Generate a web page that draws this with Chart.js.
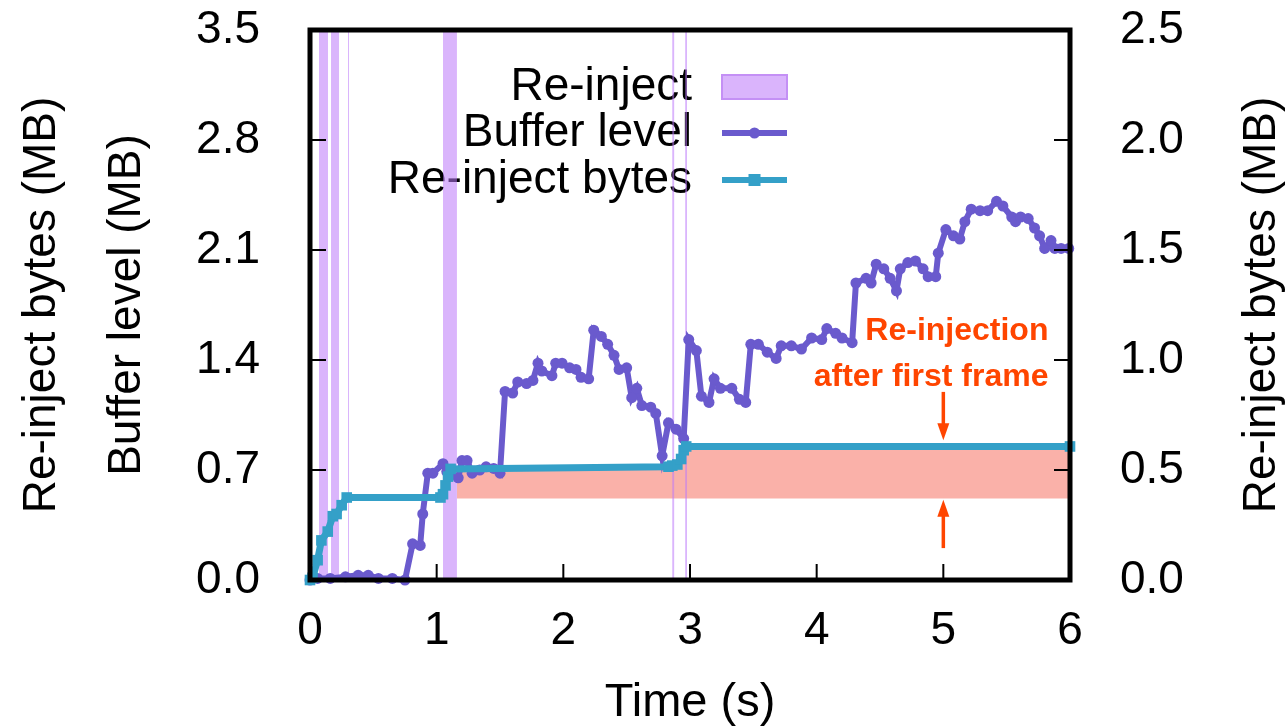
<!DOCTYPE html>
<html>
<head>
<meta charset="utf-8">
<style>
html,body{margin:0;padding:0;background:#fff;}
#wrap{width:1287px;height:727px;position:relative;}
</style>
<script src="https://cdn.jsdelivr.net/npm/chart.js@4/dist/chart.umd.min.js"></script>
</head>
<body>
<div id="wrap"><canvas id="c" width="1287" height="727"></canvas></div>
<script>
// ---------------- data ----------------
const xTicks = [0, 1, 2, 3, 4, 5, 6];
const leftTicks = [0, 0.7, 1.4, 2.1, 2.8, 3.5];
const rightTicks = [0, 0.5, 1.0, 1.5, 2.0, 2.5];

// Buffer level (MB, left axis)
const bufferTime = [0, 0.06, 0.16, 0.28, 0.38, 0.46, 0.54, 0.65, 0.75, 0.81, 0.87, 0.89, 0.93, 0.97,
  1.05, 1.08, 1.17, 1.20, 1.24, 1.28, 1.34, 1.39, 1.45, 1.50, 1.54, 1.60, 1.64, 1.71, 1.76, 1.80,
  1.83, 1.91, 1.94, 1.99, 2.05, 2.10, 2.14, 2.20, 2.24, 2.30, 2.35, 2.40, 2.44, 2.50, 2.54, 2.58,
  2.62, 2.69, 2.73, 2.78, 2.83, 2.89, 2.95, 2.99, 3.05, 3.09, 3.15, 3.19, 3.24, 3.33, 3.39, 3.44,
  3.48, 3.54, 3.61, 3.68, 3.72, 3.80, 3.88, 3.96, 4.04, 4.08, 4.15, 4.20, 4.28, 4.31, 4.39, 4.43,
  4.47, 4.53, 4.58, 4.63, 4.66, 4.72, 4.78, 4.84, 4.88, 4.94, 4.96, 5.02, 5.08, 5.13, 5.17, 5.22,
  5.29, 5.35, 5.42, 5.47, 5.54, 5.57, 5.61, 5.67, 5.72, 5.76, 5.80, 5.85, 5.88, 5.93, 5.99];
const bufferLevel = [0, 0.01, 0.01, 0.02, 0.03, 0.03, 0.01, 0.01, 0.0, 0.23, 0.22, 0.42, 0.68, 0.68,
  0.74, 0.69, 0.65, 0.76, 0.76, 0.68, 0.70, 0.72, 0.71, 0.68, 1.20, 1.19, 1.26, 1.25, 1.27, 1.38,
  1.33, 1.30, 1.38, 1.38, 1.35, 1.34, 1.29, 1.28, 1.59, 1.55, 1.50, 1.43, 1.34, 1.35, 1.16, 1.22,
  1.11, 1.10, 1.06, 0.79, 1.00, 0.96, 0.90, 1.53, 1.46, 1.17, 1.13, 1.28, 1.22, 1.22, 1.15, 1.13,
  1.50, 1.50, 1.45, 1.41, 1.49, 1.49, 1.47, 1.54, 1.53, 1.60, 1.57, 1.54, 1.51, 1.89, 1.92, 1.89,
  2.01, 1.98, 1.92, 1.84, 1.98, 2.02, 2.03, 1.98, 1.93, 1.93, 2.08, 2.23, 2.19, 2.17, 2.28, 2.36,
  2.35, 2.35, 2.41, 2.38, 2.31, 2.28, 2.31, 2.30, 2.24, 2.19, 2.11, 2.16, 2.11, 2.11, 2.11];

// Re-inject bytes (MB, right axis)
const reinjectTime = [0, 0.02, 0.06, 0.09, 0.14, 0.18, 0.21, 0.25, 0.29, 1.03, 1.05, 1.07, 1.09, 1.11,
  2.83, 2.86, 2.90, 2.93, 2.95, 2.97, 6.0];
const reinjectBytes = [0, 0.01, 0.09, 0.18, 0.22, 0.29, 0.30, 0.34, 0.375, 0.375, 0.39, 0.43, 0.47, 0.505,
  0.515, 0.52, 0.525, 0.55, 0.59, 0.607, 0.607];

// Re-inject periods (s)
const reinjectStart = [0.071, 0.166, 0.300, 1.050, 2.860, 2.962];
const reinjectEnd   = [0.142, 0.229, 0.308, 1.160, 2.875, 2.977];

// Re-injection after first frame (right axis)
const afterFirstFrameStart = 1.16;
const afterFirstFrameBase = 0.37;

// annotation
const noteLines = ['Re-injection', 'after first frame'];
const noteTime = 5.83;
const noteValues = [1.13, 0.92];
const arrowTime = 5;
const arrowDown = [0.855, 0.635];
const arrowUp = [0.145, 0.365];

// ---------------- styles ----------------
const PURPLE = '#6a5acd';
const CYAN = '#34a0c8';
const PINK = '#fab1a9';
const BAND = 'rgba(187,120,250,0.55)';
const ORANGE = '#ff4500';
const FONT = "'Liberation Sans', Arial, Helvetica, sans-serif";
const FS = 46;

Chart.defaults.font.family = FONT;
Chart.defaults.color = '#000';

const bufferData = bufferTime.map((t, i) => ({x: t, y: bufferLevel[i]}));
const reinjectData = reinjectTime.map((t, i) => ({x: t, y: reinjectBytes[i]}));
const bandData = [];
reinjectStart.forEach((s, i) => {
  const e = reinjectEnd[i];
  const top = leftTicks[leftTicks.length - 1];
  bandData.push({x: s, y: 0}, {x: s, y: top}, {x: e, y: top}, {x: e, y: 0});
});
function reinjectAt(t) {
  let v = reinjectBytes[0];
  reinjectTime.forEach((tt, i) => { if (tt <= t) v = reinjectBytes[i]; });
  return v;
}
const fillData = [{x: afterFirstFrameStart, y: reinjectAt(afterFirstFrameStart)}]
  .concat(reinjectData.filter(p => p.x > afterFirstFrameStart));

// ---------------- plugin ----------------
function drawLegend(chart) {
  const ctx = chart.ctx;
  ctx.save();
  ctx.font = FS + 'px ' + FONT;
  ctx.fillStyle = '#000';
  ctx.textAlign = 'right';
  ctx.textBaseline = 'middle';
  const tx = 692, sx0 = 722, sx1 = 787;
  const rows = [87, 133, 180];
  ctx.fillText('Re-inject', tx, rows[0]);
  ctx.fillText('Buffer level', tx, rows[1]);
  ctx.fillText('Re-inject bytes', tx, rows[2]);
  // box
  ctx.fillStyle = '#dab4fc';
  ctx.fillRect(sx0, rows[0] - 12, sx1 - sx0, 24);
  ctx.strokeStyle = '#c490f5';
  ctx.lineWidth = 2;
  ctx.strokeRect(sx0, rows[0] - 12, sx1 - sx0, 24);
  // buffer level sample
  ctx.strokeStyle = PURPLE; ctx.lineWidth = 6;
  ctx.beginPath(); ctx.moveTo(sx0, rows[1]); ctx.lineTo(sx1, rows[1]); ctx.stroke();
  ctx.fillStyle = PURPLE;
  ctx.beginPath(); ctx.arc((sx0 + sx1) / 2, rows[1], 5.5, 0, Math.PI * 2); ctx.fill();
  // re-inject bytes sample
  ctx.strokeStyle = CYAN;
  ctx.beginPath(); ctx.moveTo(sx0, rows[2]); ctx.lineTo(sx1, rows[2]); ctx.stroke();
  ctx.fillStyle = CYAN;
  ctx.fillRect((sx0 + sx1) / 2 - 6, rows[2] - 6, 12, 12);
  ctx.restore();
}

function arrow(ctx, x, y0, y1) {
  const dir = Math.sign(y1 - y0);
  ctx.beginPath(); ctx.moveTo(x, y0); ctx.lineTo(x, y1 - dir * 14); ctx.stroke();
  ctx.beginPath();
  ctx.moveTo(x, y1);
  ctx.lineTo(x - 6, y1 - dir * 17);
  ctx.lineTo(x + 6, y1 - dir * 17);
  ctx.closePath(); ctx.fill();
}

const decor = {
  id: 'decor',
  beforeDatasetsDraw(chart) { drawLegend(chart); },
  afterDatasetsDraw(chart) {
    const {ctx, chartArea: a, scales} = chart;
    ctx.save();
    // frame
    ctx.strokeStyle = '#000';
    ctx.lineWidth = 5;
    ctx.strokeRect(a.left, a.top, a.right - a.left, a.bottom - a.top);
    // inner ticks
    ctx.lineWidth = 2;
    ctx.beginPath();
    scales.x.ticks.forEach(t => {
      const px = scales.x.getPixelForValue(t.value);
      ctx.moveTo(px, a.bottom); ctx.lineTo(px, a.bottom - 16);
    });
    scales.y.ticks.forEach(t => {
      const py = scales.y.getPixelForValue(t.value);
      ctx.moveTo(a.left, py); ctx.lineTo(a.left + 16, py);
    });
    scales.y1.ticks.forEach(t => {
      const py = scales.y1.getPixelForValue(t.value);
      ctx.moveTo(a.right, py); ctx.lineTo(a.right - 16, py);
    });
    ctx.stroke();
    // right axis title
    ctx.font = FS + 'px ' + FONT;
    ctx.fillStyle = '#000';
    ctx.textAlign = 'center';
    ctx.textBaseline = 'middle';
    ctx.translate(1262, (a.top + a.bottom) / 2);
    ctx.rotate(-Math.PI / 2);
    ctx.fillText('Re-inject bytes (MB)', 0, 0);
    ctx.restore();

    // annotation
    ctx.save();
    ctx.fillStyle = ORANGE;
    ctx.strokeStyle = ORANGE;
    ctx.font = 'bold 32px ' + FONT;
    ctx.textAlign = 'right';
    ctx.textBaseline = 'middle';
    const nx = scales.x.getPixelForValue(noteTime);
    noteLines.forEach((s, i) => ctx.fillText(s, nx, scales.y1.getPixelForValue(noteValues[i])));
    ctx.lineWidth = 3.5;
    const ax = scales.x.getPixelForValue(arrowTime);
    arrow(ctx, ax, scales.y1.getPixelForValue(arrowDown[0]), scales.y1.getPixelForValue(arrowDown[1]));
    arrow(ctx, ax, scales.y1.getPixelForValue(arrowUp[0]), scales.y1.getPixelForValue(arrowUp[1]));
    ctx.restore();
  }
};

function fixVertical(width) {
  return s => { s.width = width; s.paddingTop = 20; s.paddingBottom = 20; };
}

// ---------------- chart ----------------
new Chart(document.getElementById('c'), {
  type: 'line',
  data: {
    datasets: [
      {
        label: 'Re-inject bytes', data: reinjectData, xAxisID: 'x', yAxisID: 'y1',
        borderColor: CYAN, backgroundColor: CYAN, borderWidth: 7,
        pointStyle: 'rect', pointRadius: 7.5, pointBorderWidth: 0, pointBackgroundColor: CYAN,
        tension: 0, fill: false, clip: false, order: 1
      },
      {
        label: 'Buffer level', data: bufferData, xAxisID: 'x', yAxisID: 'y',
        borderColor: PURPLE, backgroundColor: PURPLE, borderWidth: 6,
        pointStyle: 'circle', pointRadius: 5.5, pointBorderWidth: 0, pointBackgroundColor: PURPLE,
        tension: 0, fill: false, clip: false, order: 2
      },
      {
        label: 'Re-inject', data: bandData, xAxisID: 'x', yAxisID: 'y',
        borderWidth: 0, borderColor: 'rgba(0,0,0,0)', backgroundColor: BAND,
        pointRadius: 0, fill: 'origin', tension: 0, order: 3
      },
      {
        label: 'after first frame', data: fillData, xAxisID: 'x', yAxisID: 'y1',
        borderWidth: 0, borderColor: 'rgba(0,0,0,0)', backgroundColor: PINK,
        pointRadius: 0, fill: {value: afterFirstFrameBase}, tension: 0, order: 4
      }
    ]
  },
  options: {
    responsive: false,
    animation: false,
    devicePixelRatio: 1,
    layout: {padding: {top: 30, left: 0, right: 0, bottom: 0}},
    plugins: {legend: {display: false}, tooltip: {enabled: false}},
    scales: {
      x: {
        type: 'linear', position: 'bottom', min: 0, max: 6,
        afterBuildTicks: s => { s.ticks = xTicks.map(v => ({value: v})); },
        afterFit: s => { s.height = 147; },
        grid: {display: false, drawTicks: false},
        border: {display: false},
        ticks: {font: {size: FS}, color: '#000', padding: 24, callback: v => String(v)},
        title: {display: true, text: 'Time (s)', color: '#000', font: {size: 47, lineHeight: '48px'}, padding: 0}
      },
      y: {
        type: 'linear', position: 'left', min: 0, max: 3.5,
        afterBuildTicks: s => { s.ticks = leftTicks.map(v => ({value: v})); },
        afterFit: fixVertical(310),
        grid: {display: false, drawTicks: false},
        border: {display: false},
        ticks: {font: {size: FS}, color: '#000', padding: 50, callback: v => Number(v).toFixed(1)},
        title: {display: true, text: ['Re-inject bytes (MB)', 'Buffer level (MB)'], color: '#000',
          font: {size: FS, lineHeight: '85px'}, padding: 0}
      },
      y1: {
        type: 'linear', position: 'right', min: 0, max: 2.5,
        afterBuildTicks: s => { s.ticks = rightTicks.map(v => ({value: v})); },
        afterFit: fixVertical(217),
        grid: {display: false, drawTicks: false},
        border: {display: false},
        ticks: {font: {size: FS}, color: '#000', padding: 50, callback: v => Number(v).toFixed(1)}
      }
    }
  },
  plugins: [decor]
});
</script>
</body>
</html>
